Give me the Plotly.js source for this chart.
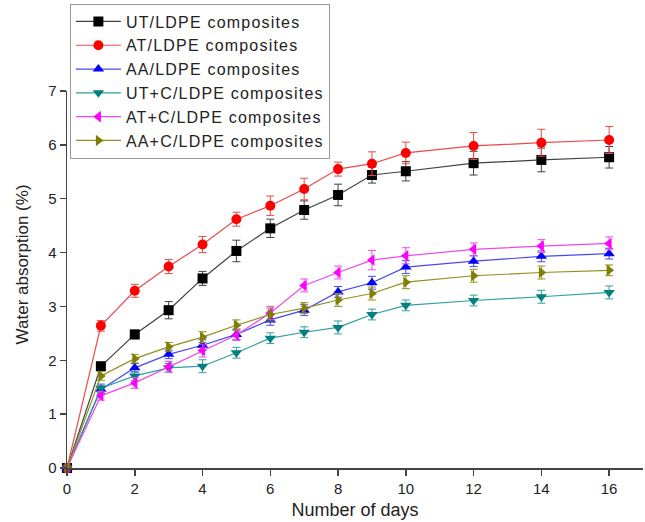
<!DOCTYPE html>
<html>
<head>
<meta charset="utf-8">
<script src="https://cdn.plot.ly/plotly-3.0.1.min.js"></script>
<style>html,body{margin:0;padding:0;background:#fff;}#chart{width:645px;height:522px;}
.legendtext{letter-spacing:1.2px;}</style>
</head>
<body>
<div id="chart"></div>
<script>
var days = [0, 1, 2, 3, 4, 5, 6, 7, 8, 9, 10, 12, 14, 16];

var seriesNames = ["UT/LDPE composites", "AT/LDPE composites", "AA/LDPE composites",
                   "UT+C/LDPE composites", "AT+C/LDPE composites", "AA+C/LDPE composites"];

var utLdpe   = [0, 1.89, 2.48, 2.93, 3.52, 4.03, 4.45, 4.79, 5.07, 5.44, 5.51, 5.66, 5.72, 5.77];
var atLdpe   = [0, 2.64, 3.29, 3.74, 4.15, 4.62, 4.87, 5.18, 5.55, 5.65, 5.85, 5.98, 6.04, 6.09];
var aaLdpe   = [0, 1.46, 1.86, 2.11, 2.28, 2.48, 2.75, 2.93, 3.27, 3.44, 3.73, 3.84, 3.93, 3.98];
var utcLdpe  = [0, 1.48, 1.71, 1.86, 1.89, 2.14, 2.41, 2.52, 2.61, 2.85, 3.02, 3.11, 3.18, 3.26];
var atcLdpe  = [0, 1.34, 1.58, 1.88, 2.18, 2.47, 2.88, 3.39, 3.63, 3.86, 3.94, 4.06, 4.12, 4.17];
var aacLdpe  = [0, 1.71, 2.03, 2.25, 2.43, 2.65, 2.85, 2.97, 3.12, 3.24, 3.45, 3.57, 3.63, 3.67];

var utErr  = [0, 0.07, 0.08, 0.16, 0.13, 0.2, 0.17, 0.17, 0.2, 0.15, 0.18, 0.22, 0.22, 0.2];
var atErr  = [0, 0.1, 0.12, 0.13, 0.15, 0.13, 0.18, 0.2, 0.13, 0.22, 0.2, 0.25, 0.25, 0.25];
var aaErr  = [0, 0.08, 0.08, 0.08, 0.1, 0.1, 0.1, 0.1, 0.1, 0.12, 0.12, 0.1, 0.1, 0.1];
var utcErr = [0, 0.08, 0.08, 0.08, 0.12, 0.1, 0.1, 0.1, 0.12, 0.1, 0.1, 0.1, 0.12, 0.12];
var atcErr = [0, 0.08, 0.1, 0.1, 0.12, 0.1, 0.12, 0.12, 0.12, 0.18, 0.15, 0.12, 0.12, 0.12];
var aacErr = [0, 0.08, 0.08, 0.08, 0.1, 0.1, 0.12, 0.1, 0.12, 0.12, 0.12, 0.12, 0.12, 0.1];

var xTicks = [0, 2, 4, 6, 8, 10, 12, 14, 16];
var yTicks = [0, 1, 2, 3, 4, 5, 6, 7];
var xTitle = "Number of days";
var yTitle = "Water absorption (%)";

var values = [utLdpe, atLdpe, aaLdpe, utcLdpe, atcLdpe, aacLdpe];
var errors = [utErr, atErr, aaErr, utcErr, atcErr, aacErr];
var markerColors = ["#000000", "#ff0000", "#0000ff", "#008080", "#ff00ff", "#808000"];
var lineColors = ["#404040", "#f04848", "#4848f0", "#30a0a0", "#f048f0", "#909020"];
var symbols = ["square", "circle", "triangle-up", "triangle-down", "triangle-left", "triangle-right"];

var traces = values.map(function (v, i) {
  return {
    type: "scatter",
    mode: "lines+markers",
    name: seriesNames[i],
    x: days,
    y: v,
    cliponaxis: false,
    line: {color: lineColors[i], width: 1.2},
    marker: {color: markerColors[i], symbol: symbols[i], size: 10},
    error_y: {type: "data", array: errors[i], visible: true, color: lineColors[i], thickness: 1, width: 4}
  };
});

var layout = {
  width: 645,
  height: 522,
  margin: {l: 67, r: 2, t: 91, b: 54},
  paper_bgcolor: "#ffffff",
  plot_bgcolor: "#ffffff",
  font: {family: "Liberation Sans, Arial, sans-serif", color: "#222", size: 15},
  showlegend: true,
  legend: {
    x: 0.005, y: 1.232, xref: "paper", yref: "paper",
    xanchor: "left", yanchor: "top",
    bgcolor: "#ffffff", bordercolor: "#999999", borderwidth: 1,
    font: {size: 16, color: "#222"},
    itemwidth: 45,
    traceorder: "normal"
  },
  annotations: [{
    text: yTitle, textangle: -90,
    xref: "paper", yref: "paper", x: 0, y: 0.54,
    xanchor: "center", yanchor: "middle", xshift: -45,
    showarrow: false, font: {size: 17, color: "#222"}
  }],
  xaxis: {
    range: [0, 17],
    tickvals: xTicks,
    ticktext: xTicks.map(String),
    ticks: "outside", ticklen: 6, tickwidth: 1.5, tickcolor: "#444",
    showline: true, linecolor: "#444", linewidth: 1.5,
    showgrid: false, zeroline: false,
    tickfont: {size: 15},
    title: {text: xTitle, font: {size: 18}, standoff: 8}
  },
  yaxis: {
    range: [0, 7],
    tickvals: yTicks,
    ticktext: yTicks.map(String),
    ticks: "outside", ticklen: 6, tickwidth: 1.5, tickcolor: "#444",
    showline: true, linecolor: "#444", linewidth: 1.5,
    showgrid: false, zeroline: false,
    tickfont: {size: 15}
  }
};

Plotly.newPlot("chart", traces, layout, {displayModeBar: false, staticPlot: true});
</script>
</body>
</html>
